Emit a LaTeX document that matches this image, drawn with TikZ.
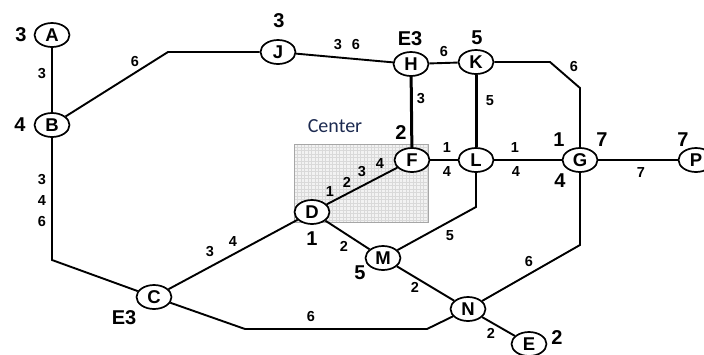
\documentclass[tikz,border=0pt]{standalone}
\usepackage{fontspec}
\setmainfont{Liberation Sans}
\newfontfamily\cfont{Carlito}
\usetikzlibrary{shapes.geometric}
\definecolor{navy}{HTML}{1C2A50}
\tikzset{
  stn/.style={ellipse, draw, line width=1.7pt, fill=white, minimum width=35pt, minimum height=24pt, inner sep=0pt, font=\bfseries\fontsize{18.5}{18.5}\selectfont},
  big/.style={font=\bfseries\fontsize{20}{20}\selectfont, inner sep=0pt},
  lbl/.style={font=\bfseries\fontsize{14.5}{14.5}\selectfont, inner sep=0pt, text=black},
  ln/.style={line width=1.9pt, line join=miter},
  tk/.style={line width=3pt}
}
\begin{document}
\begin{tikzpicture}[x=1pt,y=-1pt]
\useasboundingbox (0,0) rectangle (704,354);
% center area
\fill[gray!10] (294,144) rectangle (428,222);
\draw[gray!30, line width=0.3pt, step=3.5pt] (294,144) grid (428,222);
\draw[gray!70, line width=0.8pt] (294,144) rectangle (428,222);
\node[font=\cfont\fontsize{20}{20}\selectfont, text=navy] (ctr) at (335,126) {Center};
% stations
\node[stn] (A) at (52,35) {A};
\node[stn] (B) at (52,125) {B};
\node[stn] (J) at (278,52) {J};
\node[stn] (H) at (411,64) {H};
\node[stn] (K) at (476,62) {K};
\node[stn] (F) at (412,160) {F};
\node[stn] (L) at (476,160) {L};
\node[stn] (G) at (580,160) {G};
\node[stn] (P) at (696,160) {P};
\node[stn] (D) at (312,212) {D};
\node[stn] (M) at (383,258) {M};
\node[stn] (C) at (154,297) {C};
\node[stn] (N) at (468,309) {N};
\node[stn] (E) at (529,344) {E};
% bend points
\coordinate (bj) at (168,52);
\coordinate (kg1) at (550,62);
\coordinate (kg2) at (580,88);
\coordinate (lm) at (476,207);
\coordinate (gn) at (580,245);
\coordinate (bc) at (52,260);
\coordinate (cn1) at (245,329);
\coordinate (cn2) at (427,329);
% connectors
\draw[ln] (A) -- (B);
\draw[ln] (B) -- (bj) -- (J);
\draw[ln] (J) -- (H);
\draw[ln] (H) -- (K);
\draw[ln] (K) -- (kg1) -- (kg2) -- (G);
\draw[tk] (H) -- (F);
\draw[tk] (K) -- (L);
\draw[ln] (F) -- (L);
\draw[ln] (L) -- (G);
\draw[ln] (G) -- (P);
\draw[ln] (D) -- (F);
\draw[ln] (L) -- (lm) -- (M);
\draw[ln] (D) -- (C);
\draw[ln] (B) -- (bc) -- (C);
\draw[ln] (D) -- (M);
\draw[ln] (M) -- (N);
\draw[ln] (G) -- (gn) -- (N);
\draw[ln] (C) -- (cn1) -- (cn2) -- (N);
\draw[ln] (N) -- (E);
% big labels
\node[big] (tA) at (21,35) {3};
\node[big] (tB) at (20,125) {4};
\node[big] (tJ) at (279,21) {3};
\node[big] (tH) at (410,39) {E3};
\node[big] (tK) at (477,38) {5};
\node[big] (tF) at (401,133) {2};
\node[big] (tG1) at (559,140) {1};
\node[big] (tG2) at (602,140) {7};
\node[big] (tG3) at (560,181) {4};
\node[big] (tP) at (683,140) {7};
\node[big] (tD) at (312,239) {1};
\node[big] (tM) at (360,273) {5};
\node[big] (tC) at (124,318) {E3};
\node[big] (tE) at (557,338) {2};
% edge labels
\node[lbl] at (42,74) {3};
\node[lbl] at (135,62) {6};
\node[lbl] at (338,45) {3};
\node[lbl] at (356,45) {6};
\node[lbl] at (444,52) {6};
\node[lbl] at (574,67) {6};
\node[lbl] at (421,99) {3};
\node[lbl] at (490,101) {5};
\node[lbl] at (447,148) {1};
\node[lbl] at (447,172) {4};
\node[lbl] at (515,148) {1};
\node[lbl] at (516,172) {4};
\node[lbl] at (641,173) {7};
\node[lbl] at (330,192) {1};
\node[lbl] at (347,182) {2};
\node[lbl] at (362,172) {3};
\node[lbl] at (380,164) {4};
\node[lbl] at (450,236) {5};
\node[lbl] at (210,252) {3};
\node[lbl] at (233,242) {4};
\node[lbl] at (42,180) {3};
\node[lbl] at (42,201) {4};
\node[lbl] at (42,222) {6};
\node[lbl] at (344,246) {2};
\node[lbl] at (415,287) {2};
\node[lbl] at (529,262) {6};
\node[lbl] at (311,317) {6};
\node[lbl] at (491,333) {2};
\end{tikzpicture}
\end{document}
